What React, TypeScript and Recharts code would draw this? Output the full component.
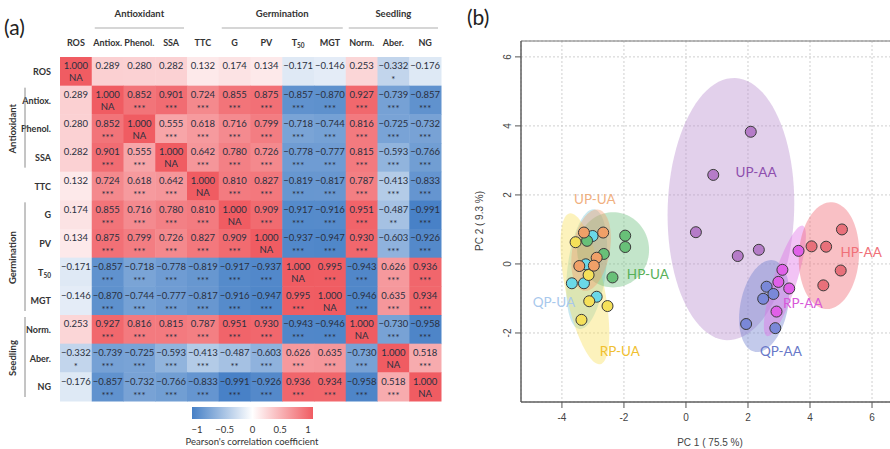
import React from "react";
import {
    ScatterChart,
    Scatter,
    XAxis,
    YAxis,
    CartesianGrid,
    ReferenceArea,
} from "recharts";

// ---------- (a) correlation matrix ----------
const variables = ["ROS", "Antiox.", "Phenol.", "SSA", "TTC", "G", "PV", "T50", "MGT", "Norm.", "Aber.", "NG"];

const corrRows = [
    [1.0, 0.289, 0.28, 0.282, 0.132, 0.174, 0.134, -0.171, -0.146, 0.253, -0.332, -0.176],
    [0.289, 1.0, 0.852, 0.901, 0.724, 0.855, 0.875, -0.857, -0.87, 0.927, -0.739, -0.857],
    [0.28, 0.852, 1.0, 0.555, 0.618, 0.716, 0.799, -0.718, -0.744, 0.816, -0.725, -0.732],
    [0.282, 0.901, 0.555, 1.0, 0.642, 0.78, 0.726, -0.778, -0.777, 0.815, -0.593, -0.766],
    [0.132, 0.724, 0.618, 0.642, 1.0, 0.81, 0.827, -0.819, -0.817, 0.787, -0.413, -0.833],
    [0.174, 0.855, 0.716, 0.78, 0.81, 1.0, 0.909, -0.917, -0.916, 0.951, -0.487, -0.991],
    [0.134, 0.875, 0.799, 0.726, 0.827, 0.909, 1.0, -0.937, -0.947, 0.93, -0.603, -0.926],
    [-0.171, -0.857, -0.718, -0.778, -0.819, -0.917, -0.937, 1.0, 0.995, -0.943, 0.626, 0.936],
    [-0.146, -0.87, -0.744, -0.777, -0.817, -0.916, -0.947, 0.995, 1.0, -0.946, 0.635, 0.934],
    [0.253, 0.927, 0.816, 0.815, 0.787, 0.951, 0.93, -0.943, -0.946, 1.0, -0.73, -0.958],
    [-0.332, -0.739, -0.725, -0.593, -0.413, -0.487, -0.603, 0.626, 0.635, -0.73, 1.0, 0.518],
    [-0.176, -0.857, -0.732, -0.766, -0.833, -0.991, -0.926, 0.936, 0.934, -0.958, 0.518, 1.0],
];

// -1 = NA, 0 = none, 1..3 = number of stars
const sigRows = [
    [-1, 0, 0, 0, 0, 0, 0, 0, 0, 0, 1, 0],
    [0, -1, 3, 3, 3, 3, 3, 3, 3, 3, 3, 3],
    [0, 3, -1, 3, 3, 3, 3, 3, 3, 3, 3, 3],
    [0, 3, 3, -1, 3, 3, 3, 3, 3, 3, 3, 3],
    [0, 3, 3, 3, -1, 3, 3, 3, 3, 3, 3, 3],
    [0, 3, 3, 3, 3, -1, 3, 3, 3, 3, 2, 3],
    [0, 3, 3, 3, 3, 3, -1, 3, 3, 3, 3, 3],
    [0, 3, 3, 3, 3, 3, 3, -1, 3, 3, 3, 3],
    [0, 3, 3, 3, 3, 3, 3, 3, -1, 3, 3, 3],
    [0, 3, 3, 3, 3, 3, 3, 3, 3, -1, 3, 3],
    [1, 3, 3, 3, 3, 2, 3, 3, 3, 3, -1, 3],
    [0, 3, 3, 3, 3, 3, 3, 3, 3, 3, 3, -1],
];

const colGroups = [
    { name: "Antioxidant", from: 1, to: 3 },
    { name: "Germination", from: 5, to: 8 },
    { name: "Seedling", from: 9, to: 11 },
];

const legendTicks = ["\u22121", "\u22120.5", "0", "0.5", "1"];

// ---------- (b) PCA scores ----------
const upAA = [[0.32, 0.92], [0.88, 2.58], [2.09, 3.83], [1.67, 0.23], [2.35, 0.41]];
const hpAA = [[5.03, 1.0], [4.05, 0.51], [4.52, 0.5], [4.99, -0.19], [4.43, -0.62]];
const rpAA = [[3.63, 0.38], [3.11, -0.17], [2.98, -0.52], [3.33, -0.71], [2.92, -1.38]];
const qpAA = [[2.6, -0.66], [2.82, -0.87], [2.49, -1.01], [1.94, -1.74], [2.88, -1.86]];
const hpUA = [[-1.96, 0.82], [-1.96, 0.49], [-2.65, 0.29], [-3.19, 0.67], [-2.37, -0.39]];
const upUA = [[-3.29, 0.91], [-2.67, 0.91], [-2.88, 0.18], [-3.44, -0.06], [-2.97, -0.05]];
const qpUA = [[-3.01, 0.81], [-3.23, -0.01], [-3.68, -0.56], [-3.29, -0.56], [-2.88, -0.95]];
const rpUA = [[-3.56, 0.63], [-3.14, -0.32], [-3.12, -1.08], [-2.53, -1.22], [-3.37, -1.62]];

// confidence ellipses: centre, semi axes, rotation (deg)
const ellipseParams = {
    "UP-AA": [1.45, 1.59, 3.8, 2.04, 88],
    "HP-AA": [4.61, 0.24, 1.55, 0.97, 86],
    "QP-AA": [2.52, -1.22, 1.36, 0.76, 76],
    "RP-AA": [3.19, -0.49, 1.7, 0.37, 70],
    "HP-UA": [-2.35, 0.41, 1.16, 1.09, 0],
    "QP-UA": [-3.2, -0.15, 1.75, 0.62, 82],
    "RP-UA": [-3.26, -0.72, 2.24, 0.62, 103],
    "UP-UA": [-3.06, 0.4, 1.2, 0.6, 78],
};

const labelPos = {
    "UP-AA": [2.26, 2.67],
    "HP-AA": [5.65, 0.35],
    "RP-AA": [3.77, -1.13],
    "QP-AA": [3.06, -2.52],
    "HP-UA": [-1.23, -0.29],
    "UP-UA": [-2.94, 1.88],
    "QP-UA": [-4.26, -1.1],
    "RP-UA": [-2.13, -2.52],
};

const pcXTicks = [-4, -2, 0, 2, 4, 6];
const pcYTicks = [-2, 0, 2, 4, 6];

const groups = [
    { name: "UP-AA", pts: upAA, area: "#b98fd0", dot: "#b57cc8", text: "#8e4fae" },
    { name: "QP-AA", pts: qpAA, area: "#7080d0", dot: "#7a88d8", text: "#6878c8" },
    { name: "RP-AA", pts: rpAA, area: "#e070e8", dot: "#e060e8", text: "#d858d8" },
    { name: "HP-AA", pts: hpAA, area: "#f06a75", dot: "#e8707a", text: "#f07078" },
    { name: "QP-UA", pts: qpUA, area: "#7cc8d8", dot: "#6ad8e8", text: "#a8c8ec" },
    { name: "RP-UA", pts: rpUA, area: "#f8e060", dot: "#f5e05a", text: "#f0c030" },
    { name: "HP-UA", pts: hpUA, area: "#70c080", dot: "#68c078", text: "#58b058" },
    { name: "UP-UA", pts: upUA, area: "#f0a070", dot: "#f0a068", text: "#f0b080" },
];

const FONT = "Lato, 'Open Sans', sans-serif";
const AXFONT = "'Liberation Sans', Arial, sans-serif";

// heatmap geometry
const HM_LEFT = 60;
const HM_TOP = 57;
const HM_RIGHT = 441;
const HM_BOTTOM = 401;
const CELL_W = (HM_RIGHT - HM_LEFT) / 12;
const CELL_H = (HM_BOTTOM - HM_TOP) / 12;

function corrColor(v: number) {
    const end = v < 0 ? [70, 128, 198] : [240, 92, 98];
    const t = Math.min(1, Math.abs(v));
    const c = end.map((e) => Math.round(255 + (e - 255) * t));
    return `rgb(${c.join(",")})`;
}

function fmt(v: number) {
    const s = Math.abs(v).toFixed(3);
    return v < 0 ? "\u2212" + s : s;
}

const heatCells = corrRows.flatMap((row, r) =>
    row.map((v, c) => ({ x: c, y: r, v, s: sigRows[r][c] }))
);

function HeatCell(p: any) {
    const { cx, cy, payload } = p;
    const s = payload.s;
    return (
        <g>
            <rect
                x={cx - CELL_W / 2}
                y={cy - CELL_H / 2}
                width={CELL_W + 0.5}
                height={CELL_H + 0.5}
                fill={corrColor(payload.v)}
            />
            <text x={cx} y={cy - 2} textAnchor="middle" fontSize={9.5} fill="#2a3040">
                {fmt(payload.v)}
            </text>
            {s !== 0 && (
                <text
                    x={cx}
                    y={s === -1 ? cy + 10 : cy + 12}
                    textAnchor="middle"
                    fontSize={s === -1 ? 9.5 : 9.5}
                    fill="#2a3040"
                >
                    {s === -1 ? "NA" : "*".repeat(s)}
                </text>
            )}
        </g>
    );
}

function VarLabel({ name, x, y, anchor }: any) {
    if (name === "T50") {
        return (
            <text x={x} y={y} textAnchor={anchor} fontSize={9} fontWeight={700} fill="#333">
                T<tspan fontSize={6.5} dy={2}>50</tspan>
            </text>
        );
    }
    return (
        <text x={x} y={y} textAnchor={anchor} fontSize={9} fontWeight={700} fill="#333">
            {name}
        </text>
    );
}

function ColTick(p: any) {
    return <VarLabel name={variables[p.payload.value]} x={p.x} y={p.y - 11} anchor="middle" />;
}

function RowTick(p: any) {
    return <VarLabel name={variables[p.payload.value]} x={p.x - 9} y={p.y + 3.5} anchor="end" />;
}

// ---------- PCA helpers ----------
function ellipseOutline(params: number[]) {
    const [cx, cy, a, b, deg] = params;
    const th = (deg * Math.PI) / 180;
    const out = [];
    for (let i = 0; i < 96; i++) {
        const t = (i / 96) * Math.PI * 2;
        out.push({
            x: cx + a * Math.cos(th) * Math.cos(t) - b * Math.sin(th) * Math.sin(t),
            y: cy + a * Math.sin(th) * Math.cos(t) + b * Math.cos(th) * Math.sin(t),
        });
    }
    return out;
}

const X_MIN = -5.32;
const X_MAX = 6.87;
const Y_MIN = -4.0;
const Y_MAX = 6.46;

function PcXTick(p: any) {
    return (
        <text x={p.x} y={p.y + 9} textAnchor="middle" fontSize={10} fill="#444" fontFamily={AXFONT}>
            {p.payload.value}
        </text>
    );
}

function PcYTick(p: any) {
    return (
        <text
            transform={`translate(${p.x},${p.y}) rotate(-90)`}
            textAnchor="middle"
            fontSize={10}
            fill="#444"
            fontFamily={AXFONT}
        >
            {p.payload.value}
        </text>
    );
}

const noMark = () => <g />;

export default function App() {
    return (
        <div
            style={{
                position: "absolute",
                left: 0,
                top: 0,
                width: 890,
                height: 449,
                overflow: "hidden",
                background: "#fff",
                fontFamily: FONT,
            }}
        >
            {/* (a) heatmap */}
            <div style={{ position: "absolute", left: 0, top: 0 }}>
                <ScatterChart
                    width={445}
                    height={449}
                    margin={{ top: HM_TOP - 20, right: 445 - HM_RIGHT, bottom: 449 - HM_BOTTOM, left: 2 }}
                >
                    <XAxis
                        type="number"
                        dataKey="x"
                        orientation="top"
                        domain={[-0.5, 11.5]}
                        ticks={variables.map((_, i) => i)}
                        interval={0}
                        height={20}
                        axisLine={false}
                        tickLine={false}
                        tickSize={0}
                        tickMargin={0}
                        tick={ColTick}
                    />
                    <YAxis
                        type="number"
                        dataKey="y"
                        reversed
                        domain={[-0.5, 11.5]}
                        ticks={variables.map((_, i) => i)}
                        interval={0}
                        width={HM_LEFT - 2}
                        axisLine={false}
                        tickLine={false}
                        tickSize={0}
                        tickMargin={0}
                        tick={RowTick}
                    />
                    <Scatter data={heatCells} shape={HeatCell} isAnimationActive={false} />
                </ScatterChart>
            </div>

            {/* (b) PCA */}
            <div style={{ position: "absolute", left: 440, top: 0 }}>
                <ScatterChart width={470} height={449} margin={{ top: 41, right: 11, bottom: 0, left: 41 }}>
                    <CartesianGrid stroke="#cfcfcf" strokeDasharray="2 2" />
                    <XAxis
                        type="number"
                        dataKey="x"
                        domain={[X_MIN, X_MAX]}
                        ticks={pcXTicks}
                        interval={0}
                        allowDataOverflow
                        height={47}
                        stroke="#555"
                        tickSize={6}
                        tickMargin={4}
                        tick={PcXTick}
                    />
                    <YAxis
                        type="number"
                        dataKey="y"
                        domain={[Y_MIN, Y_MAX]}
                        ticks={pcYTicks}
                        interval={0}
                        allowDataOverflow
                        width={40}
                        stroke="#555"
                        tickSize={6}
                        tickMargin={4}
                        tick={PcYTick}
                    />
                    <ReferenceArea x1={X_MIN} x2={X_MAX} y1={Y_MIN} y2={Y_MAX} fill="none" stroke="#777" strokeWidth={1} />
                    {groups.map((g) => (
                        <Scatter
                            key={g.name + "-ell"}
                            data={ellipseOutline(ellipseParams[g.name])}
                            line={{ fill: g.area, fillOpacity: 0.42, stroke: "none" }}
                            lineJointType="linearClosed"
                            shape={noMark}
                            isAnimationActive={false}
                        />
                    ))}
                    {groups.map((g) => (
                        <Scatter
                            key={g.name + "-pts"}
                            data={g.pts.map(([x, y]) => ({ x, y }))}
                            shape={(p: any) => (
                                <circle cx={p.cx} cy={p.cy} r={5.5} fill={g.dot} stroke="#3a3a3a" strokeWidth={1} />
                            )}
                            isAnimationActive={false}
                        />
                    ))}
                    {groups.map((g) => (
                        <Scatter
                            key={g.name + "-lbl"}
                            data={[{ x: labelPos[g.name][0], y: labelPos[g.name][1] }]}
                            shape={(p: any) => (
                                <text
                                    x={p.cx}
                                    y={p.cy + 5}
                                    textAnchor="middle"
                                    fontSize={13.5}
                                    fill={g.text}
                                    fontFamily={FONT}
                                >
                                    {g.name}
                                </text>
                            )}
                            isAnimationActive={false}
                        />
                    ))}
                </ScatterChart>
            </div>

            {/* annotations */}
            <svg
                width={890}
                height={449}
                style={{ position: "absolute", left: 0, top: 0, pointerEvents: "none" }}
                fontFamily={FONT}
            >
                <defs>
                    <linearGradient id="corrGrad" x1="0" x2="1" y1="0" y2="0">
                        <stop offset="0%" stopColor={corrColor(-1)} />
                        <stop offset="50%" stopColor="#ffffff" />
                        <stop offset="100%" stopColor={corrColor(1)} />
                    </linearGradient>
                </defs>
                <text x={4} y={35} fontSize={21} fill="#222">(a)</text>
                <text x={467} y={25} fontSize={21} fill="#222">(b)</text>

                {colGroups.map((g) => {
                    const x0 = HM_LEFT + g.from * CELL_W;
                    const x1 = HM_LEFT + (g.to + 1) * CELL_W;
                    return (
                        <g key={g.name}>
                            <text x={(x0 + x1) / 2} y={17} textAnchor="middle" fontSize={9.5} fontWeight={700} fill="#333">
                                {g.name}
                            </text>
                            <line x1={x0 + 3} x2={x1 - 3} y1={28} y2={28} stroke="#d6d6d6" strokeWidth={2} />
                        </g>
                    );
                })}
                {colGroups.map((g) => {
                    const y0 = HM_TOP + g.from * CELL_H;
                    const y1 = HM_TOP + (g.to + 1) * CELL_H;
                    const ym = (y0 + y1) / 2;
                    return (
                        <g key={g.name + "-row"}>
                            <line x1={25} x2={25} y1={y0 + 2} y2={y1 - 4} stroke="#8a8a8a" strokeWidth={1} />
                            <text
                                transform={`translate(16,${ym}) rotate(-90)`}
                                textAnchor="middle"
                                fontSize={9.5}
                                fontWeight={700}
                                fill="#333"
                            >
                                {g.name}
                            </text>
                        </g>
                    );
                })}

                <rect x={192} y={407} width={121} height={12} fill="url(#corrGrad)" />
                {legendTicks.map((t, i) => (
                    <text key={t} x={197 + i * 27.75} y={433} textAnchor="middle" fontSize={9.5} fill="#333">
                        {t}
                    </text>
                ))}
                <text x={252} y={445} textAnchor="middle" fontSize={9.5} fill="#333">
                    Pearson's correlation coefficient
                </text>

                <text
                    transform="translate(483,221) rotate(-90)"
                    textAnchor="middle"
                    fontSize={10}
                    fill="#444"
                    fontFamily={AXFONT}
                >
                    PC 2 ( 9.3 %)
                </text>
                <text x={710} y={446} textAnchor="middle" fontSize={10} fill="#444" fontFamily={AXFONT}>
                    PC 1 ( 75.5 %)
                </text>
            </svg>
        </div>
    );
}
